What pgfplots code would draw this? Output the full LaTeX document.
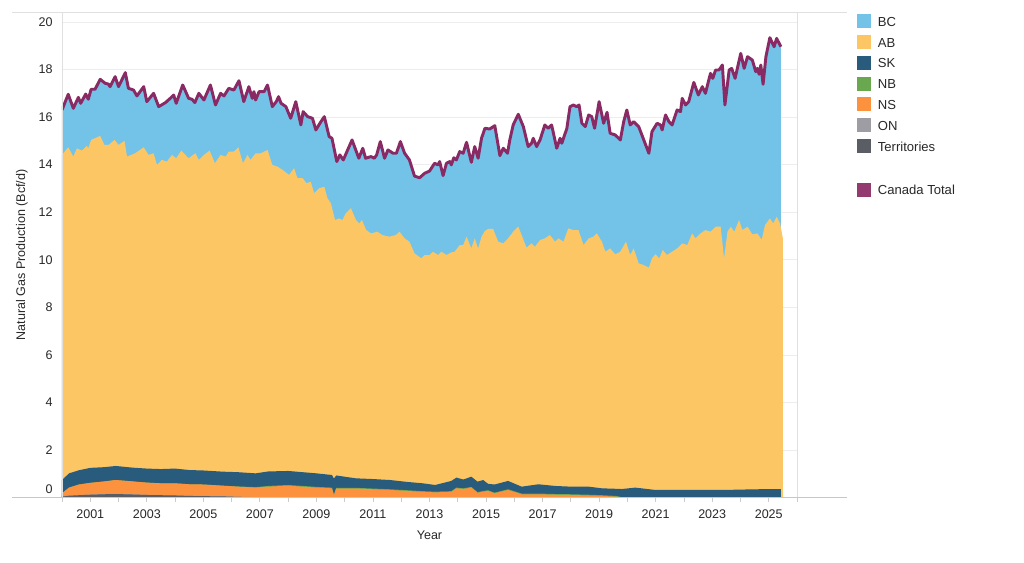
\documentclass[border=0pt]{standalone}
\usepackage{fontspec}
\setmainfont{Liberation Sans}
\usepackage{pgfplots}
\usepackage{pgfplotstable}
\pgfplotsset{compat=1.18}

\definecolor{bccol}{RGB}{115,195,233}
\definecolor{abcol}{RGB}{253,198,100}
\definecolor{skcol}{RGB}{41,91,125}
\definecolor{nbcol}{RGB}{106,168,79}
\definecolor{nscol}{RGB}{253,146,62}
\definecolor{oncol}{RGB}{157,157,163}
\definecolor{trcol}{RGB}{90,94,100}
\definecolor{totcol}{RGB}{138,42,100}
\definecolor{txt}{RGB}{40,40,40}

% Canada total (top of the stack)
\pgfplotstableread{
t v
2000.00 16.30
2000.22 16.96
2000.40 16.37
2000.58 16.83
2000.66 16.58
2000.84 16.97
2000.93 16.75
2001.03 17.17
2001.17 17.17
2001.35 17.59
2001.53 17.42
2001.64 17.39
2001.70 17.28
2001.88 17.70
2002.00 17.28
2002.24 17.87
2002.35 17.21
2002.53 17.14
2002.65 16.89
2002.89 17.28
2003.00 16.65
2003.24 17.00
2003.42 16.44
2003.66 16.61
2003.83 16.79
2003.95 16.93
2004.04 16.58
2004.27 17.35
2004.48 16.79
2004.60 16.75
2004.70 16.61
2004.84 17.00
2005.02 16.72
2005.25 17.35
2005.43 16.51
2005.61 17.00
2005.73 16.89
2005.90 17.21
2006.08 17.14
2006.26 17.53
2006.43 16.65
2006.61 17.28
2006.73 16.79
2006.79 17.07
2006.85 16.72
2006.97 17.07
2007.15 17.07
2007.27 17.35
2007.44 16.44
2007.58 16.65
2007.66 16.86
2007.75 16.58
2007.92 16.44
2008.09 15.95
2008.27 16.65
2008.45 15.67
2008.53 16.23
2008.69 16.02
2008.86 15.95
2008.98 15.46
2009.16 15.81
2009.28 16.02
2009.45 15.18
2009.55 15.11
2009.72 14.13
2009.83 14.41
2009.95 14.20
2010.26 15.04
2010.50 14.27
2010.64 14.69
2010.74 14.27
2010.93 14.34
2011.05 14.27
2011.13 14.41
2011.26 14.97
2011.41 14.27
2011.53 14.62
2011.71 14.48
2011.83 14.48
2011.97 14.97
2012.12 14.48
2012.29 14.20
2012.47 13.52
2012.65 13.45
2012.83 13.64
2013.00 13.73
2013.18 14.06
2013.30 13.99
2013.36 14.13
2013.48 13.54
2013.60 14.06
2013.72 14.13
2013.77 13.99
2013.86 14.29
2013.95 14.20
2014.07 14.55
2014.19 14.48
2014.31 14.94
2014.48 14.10
2014.60 14.76
2014.72 14.27
2014.84 15.11
2014.96 15.53
2015.13 15.50
2015.31 15.64
2015.49 14.38
2015.61 14.69
2015.76 14.48
2015.84 15.04
2015.96 15.67
2016.14 16.12
2016.32 15.60
2016.49 14.76
2016.61 14.90
2016.67 15.11
2016.79 14.76
2016.91 15.04
2017.08 15.67
2017.20 15.53
2017.32 15.67
2017.50 14.69
2017.62 15.11
2017.68 14.90
2017.86 15.53
2017.97 16.44
2018.09 16.51
2018.21 16.44
2018.29 16.51
2018.39 15.74
2018.51 15.60
2018.63 16.09
2018.74 16.02
2018.84 15.53
2019.00 16.65
2019.16 15.74
2019.28 16.20
2019.39 15.32
2019.57 15.25
2019.75 15.04
2019.87 15.81
2019.98 16.30
2020.10 15.67
2020.22 15.81
2020.40 15.60
2020.58 15.04
2020.76 14.48
2020.87 15.39
2021.05 15.74
2021.17 15.67
2021.23 15.46
2021.35 16.09
2021.47 15.81
2021.58 15.67
2021.76 16.30
2021.88 16.23
2021.94 16.79
2022.06 16.51
2022.17 16.65
2022.35 17.46
2022.51 16.93
2022.65 17.28
2022.76 17.00
2022.94 17.84
2023.02 17.63
2023.12 17.98
2023.24 17.98
2023.36 18.19
2023.45 16.51
2023.60 17.98
2023.69 18.05
2023.81 17.63
2024.01 18.68
2024.13 18.05
2024.25 18.54
2024.42 18.40
2024.54 17.91
2024.60 18.05
2024.66 17.80
2024.72 18.19
2024.80 17.38
2024.90 18.54
2025.04 19.34
2025.19 18.96
2025.28 19.31
2025.43 18.96
}\total

% top of the AB band (AB and everything below it)
\pgfplotstableread{
t v
2000.00 14.41
2000.22 14.73
2000.40 14.34
2000.53 14.69
2000.70 14.59
2000.88 14.79
2000.93 14.69
2001.03 15.04
2001.35 15.21
2001.50 14.83
2001.65 14.83
2001.86 15.04
2002.00 14.83
2002.21 15.00
2002.30 14.34
2002.59 14.48
2002.89 14.73
2003.06 14.41
2003.24 14.48
2003.36 13.99
2003.53 14.20
2003.71 14.13
2003.89 14.41
2004.04 14.27
2004.22 14.59
2004.48 14.27
2004.72 14.48
2004.84 14.20
2005.02 14.41
2005.22 14.59
2005.41 14.06
2005.61 14.41
2005.79 14.34
2005.90 14.55
2006.08 14.55
2006.24 14.73
2006.40 14.06
2006.56 14.41
2006.67 14.20
2006.85 14.48
2007.03 14.48
2007.27 14.62
2007.44 13.99
2007.62 13.92
2007.80 13.78
2008.03 13.57
2008.21 13.85
2008.33 13.43
2008.51 13.43
2008.65 13.22
2008.80 13.28
2008.92 12.80
2009.10 13.01
2009.28 13.07
2009.39 12.59
2009.51 12.38
2009.66 11.67
2009.80 11.74
2009.92 11.67
2010.04 11.96
2010.22 12.17
2010.40 11.67
2010.52 11.53
2010.61 11.67
2010.76 11.25
2010.93 11.11
2011.16 11.18
2011.33 11.04
2011.58 10.97
2011.81 11.04
2011.94 11.18
2012.12 10.90
2012.29 10.76
2012.47 10.27
2012.71 10.06
2012.83 10.20
2013.00 10.20
2013.12 10.34
2013.30 10.20
2013.42 10.34
2013.60 10.20
2013.77 10.31
2013.89 10.34
2014.07 10.62
2014.19 10.62
2014.31 10.97
2014.48 10.48
2014.60 10.90
2014.72 10.48
2014.84 10.97
2014.96 11.21
2015.08 11.30
2015.25 11.30
2015.43 10.76
2015.61 10.69
2015.78 10.90
2015.96 11.18
2016.14 11.39
2016.26 11.04
2016.43 10.51
2016.61 10.69
2016.73 10.55
2016.91 10.83
2017.08 10.90
2017.26 11.04
2017.44 10.76
2017.56 10.90
2017.74 10.76
2017.91 11.32
2018.09 11.25
2018.27 11.25
2018.45 10.62
2018.63 10.90
2018.80 10.97
2018.92 11.11
2019.10 10.76
2019.22 10.34
2019.39 10.48
2019.57 10.23
2019.75 10.34
2019.95 10.76
2020.10 10.20
2020.22 10.48
2020.40 9.85
2020.58 9.78
2020.76 9.67
2020.87 10.06
2020.99 10.23
2021.13 10.06
2021.25 10.41
2021.40 10.20
2021.58 10.34
2021.76 10.48
2021.94 10.69
2022.12 10.62
2022.29 11.11
2022.41 10.90
2022.59 11.11
2022.76 11.25
2022.94 11.18
2023.12 11.39
2023.30 11.39
2023.42 10.06
2023.54 11.18
2023.66 11.39
2023.78 11.18
2023.95 11.67
2024.07 11.25
2024.25 11.39
2024.42 11.07
2024.60 11.11
2024.75 10.84
2024.87 11.46
2025.04 11.74
2025.16 11.53
2025.28 11.81
2025.40 11.53
2025.50 10.90
}\abtop

% tops of the small bands, cumulative from the bottom
\pgfplotstableread{
t terr on ns nb sk
2000.00 0.04 0.05 0.18 0.18 0.74
2000.25 0.08 0.09 0.42 0.42 1.02
2000.60 0.10 0.11 0.55 0.55 1.15
2001.00 0.12 0.13 0.62 0.62 1.25
2001.50 0.14 0.15 0.68 0.68 1.28
2001.90 0.15 0.16 0.74 0.74 1.33
2002.50 0.13 0.14 0.68 0.68 1.26
2003.00 0.11 0.12 0.63 0.63 1.22
2003.50 0.10 0.11 0.60 0.60 1.20
2004.00 0.09 0.10 0.60 0.60 1.22
2004.50 0.07 0.08 0.56 0.56 1.16
2005.00 0.06 0.07 0.55 0.55 1.14
2005.70 0.05 0.06 0.50 0.50 1.09
2006.20 0.03 0.04 0.46 0.47 1.07
2006.85 0.01 0.02 0.42 0.44 1.02
2007.30 0.00 0.01 0.46 0.49 1.10
2008.00 0.00 0.00 0.50 0.53 1.12
2008.50 0.00 0.00 0.46 0.49 1.07
2009.00 0.00 0.00 0.42 0.45 1.02
2009.55 0.00 0.00 0.39 0.42 0.95
2009.62 0.00 0.00 0.10 0.13 0.80
2009.70 0.00 0.00 0.38 0.41 0.93
2010.40 0.00 0.00 0.38 0.41 0.81
2011.00 0.00 0.00 0.35 0.38 0.78
2011.60 0.00 0.00 0.32 0.35 0.74
2012.20 0.00 0.00 0.28 0.31 0.66
2012.77 0.00 0.00 0.24 0.27 0.60
2013.20 0.00 0.00 0.22 0.25 0.53
2013.77 0.00 0.00 0.24 0.27 0.70
2013.95 0.00 0.00 0.39 0.42 0.84
2014.20 0.00 0.00 0.36 0.39 0.76
2014.48 0.00 0.00 0.42 0.45 0.88
2014.70 0.00 0.00 0.20 0.23 0.67
2014.90 0.00 0.00 0.25 0.28 0.74
2015.07 0.00 0.00 0.28 0.31 0.58
2015.30 0.00 0.00 0.18 0.21 0.55
2015.78 0.00 0.00 0.32 0.35 0.70
2016.26 0.00 0.00 0.14 0.17 0.46
2016.85 0.00 0.00 0.14 0.17 0.56
2017.44 0.00 0.00 0.12 0.15 0.49
2018.00 0.00 0.00 0.11 0.14 0.46
2018.63 0.00 0.00 0.09 0.12 0.46
2019.10 0.00 0.00 0.07 0.10 0.39
2019.60 0.00 0.00 0.04 0.07 0.37
2019.80 0.00 0.00 0.00 0.02 0.36
2020.28 0.00 0.00 0.00 0.00 0.42
2021.00 0.00 0.00 0.00 0.00 0.32
2022.18 0.00 0.00 0.00 0.00 0.32
2023.36 0.00 0.00 0.00 0.00 0.32
2024.54 0.00 0.00 0.00 0.00 0.35
2025.43 0.00 0.00 0.00 0.00 0.36
}\small

\begin{document}
\begin{tikzpicture}
\useasboundingbox (-46.5pt,-49.05pt) rectangle (721.5pt,373.2pt);
\begin{axis}[
  at={(0,0)}, anchor=south west,
  scale only axis,
  width=551.25pt, height=364.2pt,
  xmin=2000, xmax=2026, ymin=0, ymax=20.42,
  axis line style={draw=none},
  xtick={2001,2003,...,2025},
  minor xtick={2000,2002,...,2026},
  xtick pos=bottom,
  tick align=outside,
  major tick length=3.5pt, minor tick length=3.5pt,
  x tick style={color=black!20, line width=0.6pt},
  ytick={2,4,...,20},
  ytick style={draw=none},
  extra y ticks={0},
  extra y tick style={grid=none, yticklabel style={yshift=6.5pt}},
  ymajorgrids,
  major grid style={color=black!7, line width=0.6pt},
  /pgf/number format/assume math mode=true,
  xticklabel style={/pgf/number format/1000 sep={}, yshift=-2.4pt},
  tick label style={font=\fontsize{9.4}{11}\selectfont, text=txt},
  xlabel={Year},
  ylabel={Natural Gas Production (Bcf/d)},
  label style={font=\fontsize{9.4}{11}\selectfont, text=txt},
  x label style={at={(axis description cs:0.5,0)}, anchor=center, yshift=-28pt},
  y label style={at={(axis description cs:0,0.5)}, anchor=center, yshift=30pt},
  legend image code/.code={%
    \fill[#1, draw=none] (0pt,-5.25pt) rectangle (10.5pt,5.25pt);
    \path[draw=none, fill=none] (0pt,0pt) -- (15.5pt,0pt);},
  legend cell align=left,
  legend style={at={(1.0816,0.9959)}, anchor=north west, draw=none, fill=none,
    inner sep=0pt, row sep=5.1pt,
    font=\fontsize{9.8}{11}\selectfont, text=txt,
    nodes={inner sep=0pt, text height=7.5pt, text depth=0pt}},
]
\addplot[fill=bccol, draw=none, forget plot] table[x=t, y=v] {\total} \closedcycle;
\addplot[fill=abcol, draw=none, forget plot] table[x=t, y=v] {\abtop} \closedcycle;
\addplot[fill=skcol, draw=none, forget plot] table[x=t, y=sk] {\small} \closedcycle;
\addplot[fill=nbcol, draw=none, forget plot] table[x=t, y=nb] {\small} \closedcycle;
\addplot[fill=nscol, draw=none, forget plot] table[x=t, y=ns] {\small} \closedcycle;
\addplot[fill=oncol, draw=none, forget plot] table[x=t, y=on] {\small} \closedcycle;
\addplot[fill=trcol, draw=none, forget plot] table[x=t, y=terr] {\small} \closedcycle;
\addplot[color=totcol, line width=2.2pt, line join=round, forget plot] table[x=t, y=v] {\total};

\addlegendimage{fill=bccol}\addlegendentry{BC}
\addlegendimage{fill=abcol}\addlegendentry{AB}
\addlegendimage{fill=skcol}\addlegendentry{SK}
\addlegendimage{fill=nbcol}\addlegendentry{NB}
\addlegendimage{fill=nscol}\addlegendentry{NS}
\addlegendimage{fill=oncol}\addlegendentry{ON}
\addlegendimage{fill=trcol}\addlegendentry{Territories}
\addlegendimage{empty legend}\addlegendentry[text height=12pt]{}
\addlegendimage{fill=totcol!92!white}\addlegendentry{Canada Total}
\end{axis}
\draw[black!12, line width=0.7pt] (-37.5pt,364.2pt) -- (588.75pt,364.2pt);
\draw[black!12, line width=0.7pt] (551.25pt,0pt) -- (551.25pt,364.2pt);
\draw[black!12, line width=0.7pt] (0pt,0pt) -- (0pt,364.2pt);
\draw[black!22, line width=0.7pt] (-37.5pt,0pt) -- (588.75pt,0pt);
\end{tikzpicture}
\end{document}
